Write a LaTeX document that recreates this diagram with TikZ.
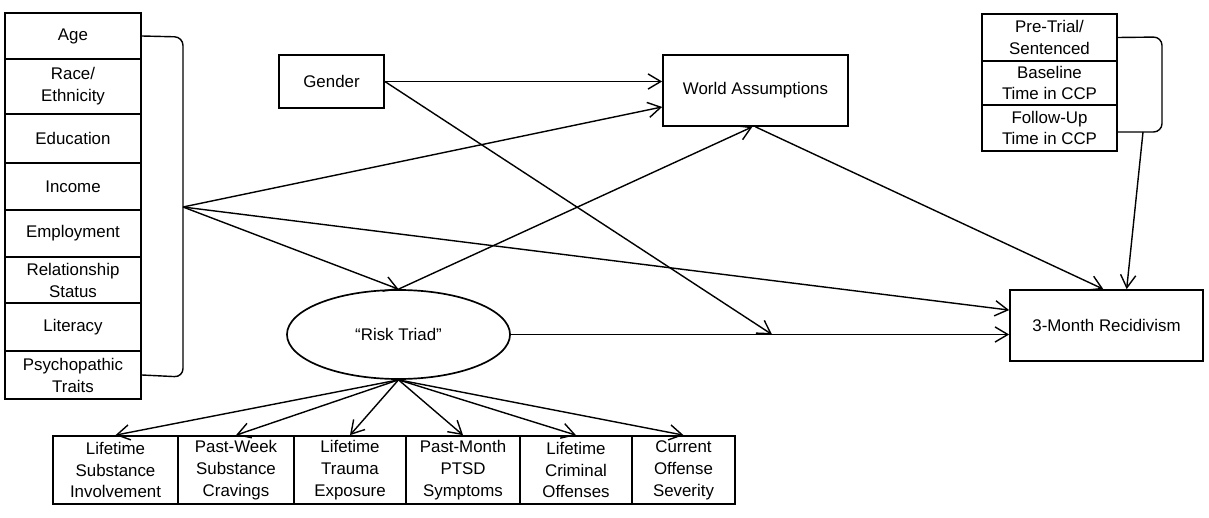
\documentclass[tikz,border=0pt]{standalone}
\usepackage{fontspec}
\setmainfont{Liberation Sans}
\usepackage{tikz}
\usetikzlibrary{arrows.meta}
\usetikzlibrary{shapes.geometric}
\tikzset{cell/.style={draw, line width=1.2pt, inner sep=0, align=center, font=\fontsize{12}{15.6}\selectfont}}
\tikzset{link/.style={line width=1pt, -{Straight Barb[length=3.2mm, width=3.8mm]}}}
\tikzset{brace/.style={line width=1pt, rounded corners=6pt}}

\begin{document}
\begin{tikzpicture}[x=0.025cm, y=-0.025cm]
    \useasboundingbox (0,0) rectangle (1209,518);

    % covariates on the left
    \node[cell, minimum width=3.4cm, minimum height=1.15cm] at (73, 36) (age) {Age};
    \node[cell, minimum width=3.4cm, minimum height=1.375cm] at (73, 86.5) (race) {Race/\\Ethnicity};
    \node[cell, minimum width=3.4cm, minimum height=1.225cm] at (73, 138.5) (edu) {Education};
    \node[cell, minimum width=3.4cm, minimum height=1.175cm] at (73, 186.5) (inc) {Income};
    \node[cell, minimum width=3.4cm, minimum height=1.175cm] at (73, 233.5) (emp) {Employment};
    \node[cell, minimum width=3.4cm, minimum height=1.15cm] at (73, 280) (rel) {Relationship\\Status};
    \node[cell, minimum width=3.4cm, minimum height=1.2cm] at (73, 327) (lit) {Literacy};
    \node[cell, minimum width=3.4cm, minimum height=1.2cm] at (73, 375) (psy) {Psychopathic\\Traits};
    \draw[brace] (age.east) -- (183, 37) -- (183, 377) -- (psy.east);
    \coordinate (lb) at (183, 207);

    % controls on the right
    \node[cell, minimum width=3.375cm, minimum height=1.175cm] at (1049.5, 37.5) (pre) {Pre-Trial/\\Sentenced};
    \node[cell, minimum width=3.375cm, minimum height=1.1cm] at (1049.5, 83) (base) {Baseline\\Time in CCP};
    \node[cell, minimum width=3.375cm, minimum height=1.15cm] at (1049.5, 128) (fol) {Follow-Up\\Time in CCP};
    \coordinate (rb) at (1143, 132);
    \draw[brace] (pre.east) -- (1162, 37) -- (1162, 132) -- (fol.east |- rb);

    % main constructs
    \node[cell, minimum width=2.625cm, minimum height=1.325cm] at (331.5, 81.5) (gender) {Gender};
    \node[cell, minimum width=4.625cm, minimum height=1.775cm] at (755.5, 90.5) (WA) {World Assumptions};
    \node[cell, minimum width=4.825cm, minimum height=1.775cm] at (1106.5, 325.5) (rec) {3-Month Recidivism};
    \node[cell, ellipse, minimum width=5.575cm, minimum height=2.225cm] at (398.5, 334.5) (risk) {“Risk Triad”};
    \coordinate (mod) at (772, 334.5);

    % indicators of the risk triad
    \node[cell, minimum width=3.125cm, minimum height=1.7cm] at (115.5, 470) (sub) {Lifetime\\Substance\\Involvement};
    \node[cell, minimum width=2.9cm, minimum height=1.7cm] at (236, 470) (crave) {Past-Week\\Substance\\Cravings};
    \node[cell, minimum width=2.8cm, minimum height=1.7cm] at (350, 470) (trauma) {Lifetime\\Trauma\\Exposure};
    \node[cell, minimum width=2.85cm, minimum height=1.7cm] at (463, 470) (ptsd) {Past-Month\\PTSD\\Symptoms};
    \node[cell, minimum width=2.8cm, minimum height=1.7cm] at (576, 470) (crim) {Lifetime\\Criminal\\Offenses};
    \node[cell, minimum width=2.575cm, minimum height=1.7cm] at (683.5, 470) (sev) {Current\\Offense\\Severity};

    \draw[link] (gender.east) -- (gender.east -| WA.west);
    \draw[link] (gender.east) -- (mod);
    \draw[link] (lb) -- (WA.190);
    \draw[link] (lb) -- (rec.171);
    \draw[link] (lb) -- (risk.north);
    \draw[link] (risk.north) -- (WA.265);
    \draw[link] (WA.south) -- (rec.95);
    \draw[link] (rb) -- (rec.61);
    \draw[link] (risk.east) -- (risk.east -| rec.west);

    \draw[link] (risk.south) -- (sub.north);
    \draw[link] (risk.south) -- (crave.north);
    \draw[link] (risk.south) -- (trauma.north);
    \draw[link] (risk.south) -- (ptsd.north);
    \draw[link] (risk.south) -- (crim.north);
    \draw[link] (risk.south) -- (sev.north);
\end{tikzpicture}
\end{document}
